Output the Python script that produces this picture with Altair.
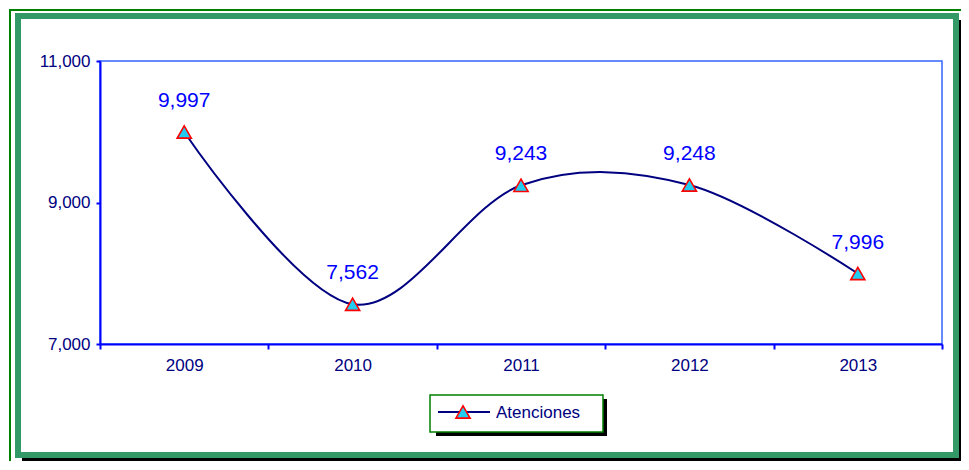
import altair as alt
import pandas as pd

years = ["2009", "2010", "2011", "2012", "2013"]
values = [9997, 7562, 9243, 9248, 7996]
series_name = "Atenciones"
y_ticks = [7000, 9000, 11000]

df = pd.DataFrame({"year": years, "value": values})
one = alt.Data(values=[{"k": 1}])

FONT = "Liberation Sans"
NAVY = "#000080"
BLUE = "#0000FF"
CYAN = "#22CCF0"
RED = "#FF0000"
GREEN_THICK = "#339966"
GREEN_THIN = "#008000"

x_enc = alt.X("year:N", sort=years, title=None,
              scale=alt.Scale(paddingInner=0, paddingOuter=0),
              axis=alt.Axis(labelAngle=0, tickBand="extent", tickSize=5,
                            labelFont=FONT, labelFontSize=17, labelColor=NAVY,
                            labelPadding=8, domainColor=BLUE, domainWidth=2,
                            tickColor=BLUE, tickWidth=2, grid=False))
y_enc = alt.Y("value:Q", title=None,
              scale=alt.Scale(domain=[7000, 11000], nice=False, zero=False),
              axis=alt.Axis(values=y_ticks, format=",.0f", tickSize=4,
                            labelFont=FONT, labelFontSize=17, labelColor=NAVY,
                            labelPadding=6, domainColor=BLUE, domainWidth=2,
                            tickColor=BLUE, tickWidth=2, grid=False))

base = alt.Chart(df)

line = base.mark_line(interpolate="cardinal", color=NAVY, strokeWidth=2).encode(x=x_enc, y=y_enc)
pts = base.mark_point(shape="triangle-up", filled=True, fill=CYAN, color=CYAN, stroke=RED,
                      strokeWidth=1.6, size=200, opacity=1, fillOpacity=1).encode(x=x_enc, y=y_enc)
labels = base.mark_text(font=FONT, fontSize=21, color=BLUE, dy=-25, baseline="alphabetic").encode(
    x=x_enc, y=y_enc, text=alt.Text("value:Q", format=","))

def rect(x, x2, y, y2, **kw):
    return alt.Chart(one).mark_rect(**kw).encode(
        x=alt.value(x), x2=alt.value(x2), y=alt.value(y), y2=alt.value(y2))

# outer decorative frame (plot coordinates: origin at plot top-left)
shadow_r = rect(859, 862, -41, 400, color="black")
shadow_b = rect(-78, 862, 397, 400, color="black")
green_frame = rect(-82, 856, -45, 394, fill=None, filled=False, stroke=GREEN_THICK, strokeWidth=6)
thin_top = rect(-91, 870, -52, -50, color=GREEN_THIN)
thin_left = rect(-91, -89, -52, 420, color=GREEN_THIN)

# legend
leg_shadow = rect(336, 507, 338, 375, color="black")
leg_box = rect(330, 503, 334, 371, fill="white", stroke=GREEN_THIN, strokeWidth=1.5)
leg_line = alt.Chart(one).mark_rule(color=NAVY, strokeWidth=2).encode(
    x=alt.value(338), x2=alt.value(390), y=alt.value(351))
leg_pt = alt.Chart(one).mark_point(shape="triangle-up", filled=True, fill=CYAN, color=CYAN, stroke=RED,
                                   strokeWidth=1.6, size=200, opacity=1, fillOpacity=1).encode(
    x=alt.value(363), y=alt.value(351))
leg_txt = alt.Chart(alt.Data(values=[{"name": series_name}])).mark_text(
    font=FONT, fontSize=17, color=NAVY, align="left", baseline="alphabetic").encode(
    x=alt.value(396), y=alt.value(357), text="name:N")

chart = alt.layer(
    shadow_r, shadow_b, green_frame, thin_top, thin_left,
    line, pts, labels,
    leg_shadow, leg_box, leg_line, leg_pt, leg_txt,
).properties(
    width=842, height=283,
    autosize=alt.AutoSizeParams(type="none"),
    padding={"left": 92, "top": 53, "right": 19, "bottom": 117},
).configure_view(stroke="#3366FF", strokeWidth=1.5)

chart.save("out.html", embed_options={"renderer": "svg", "actions": False})
